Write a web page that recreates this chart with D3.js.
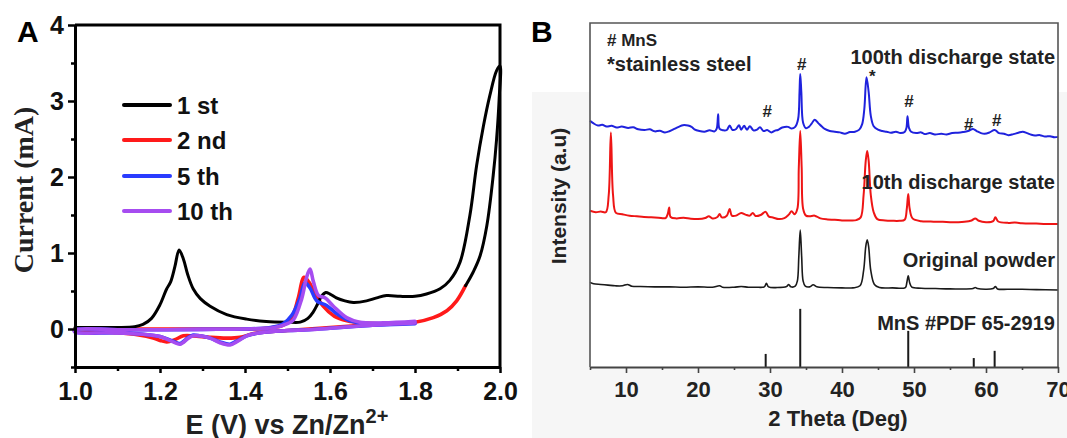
<!DOCTYPE html>
<html><head><meta charset="utf-8">
<script src="https://cdn.jsdelivr.net/npm/d3@7"></script>
<style>body{margin:0;background:#fff}svg{display:block}</style>
</head><body>
<svg id="c" width="1067" height="438"></svg>
<script>
// ---------- Panel A data: cyclic voltammetry [E (V), I (mA)] ----------
const cycleNames = ["1 st", "2 nd", "5 th", "10 th"];
const cycleColors = ["#000000", "#ff1a1a", "#2a3cff", "#a64cf0"];
const cycle1 = [[1.00,0.02],[1.05,0.02],[1.10,0.02],[1.14,0.03],[1.16,0.06],[1.18,0.14],[1.20,0.32],[1.215,0.52],[1.225,0.62],[1.235,0.82],[1.245,1.04],[1.255,0.92],[1.265,0.72],[1.278,0.53],[1.295,0.40],[1.318,0.30],[1.357,0.19],[1.404,0.13],[1.45,0.10],[1.50,0.09],[1.53,0.09],[1.548,0.14],[1.56,0.22],[1.57,0.32],[1.58,0.43],[1.59,0.48],[1.60,0.46],[1.615,0.41],[1.635,0.37],[1.655,0.35],[1.686,0.37],[1.71,0.41],[1.733,0.44],[1.765,0.43],[1.80,0.43],[1.827,0.46],[1.859,0.53],[1.882,0.64],[1.906,0.88],[1.929,1.49],[1.945,2.15],[1.961,2.67],[1.976,3.07],[1.992,3.40],[2.0,3.46],[1.998,3.03],[1.992,2.5],[1.984,2.02],[1.969,1.36],[1.953,0.96],[1.937,0.75],[1.919,0.57]];
const cycle2 = [[1.919,0.57],[1.898,0.37],[1.875,0.24],[1.843,0.15],[1.80,0.09],[1.75,0.07],[1.70,0.06],[1.65,0.04],[1.60,0.02],[1.55,0.0],[1.50,-0.02],[1.45,-0.04],[1.42,-0.06],[1.388,-0.11],[1.357,-0.12],[1.318,-0.11],[1.278,-0.09],[1.255,-0.09],[1.235,-0.14],[1.216,-0.17],[1.20,-0.15],[1.184,-0.12],[1.15,-0.08],[1.10,-0.05],[1.05,-0.04],[1.00,-0.03],[1.00,0.0],[1.10,0.0],[1.20,0.0],[1.30,0.0],[1.40,0.0],[1.45,0.01],[1.49,0.05],[1.51,0.15],[1.525,0.40],[1.539,0.68],[1.55,0.62],[1.562,0.50],[1.584,0.30],[1.61,0.17],[1.64,0.11],[1.68,0.08],[1.74,0.07],[1.80,0.08]];
const cycle5 = [[1.80,0.07],[1.75,0.06],[1.70,0.05],[1.65,0.03],[1.60,0.01],[1.55,-0.01],[1.50,-0.02],[1.45,-0.04],[1.425,-0.06],[1.404,-0.09],[1.38,-0.16],[1.365,-0.20],[1.341,-0.17],[1.318,-0.12],[1.294,-0.09],[1.278,-0.08],[1.267,-0.11],[1.247,-0.19],[1.231,-0.16],[1.20,-0.10],[1.161,-0.07],[1.10,-0.05],[1.00,-0.04],[1.00,-0.01],[1.10,-0.01],[1.20,-0.01],[1.30,-0.005],[1.40,0.0],[1.46,0.02],[1.49,0.07],[1.51,0.18],[1.529,0.40],[1.541,0.61],[1.553,0.54],[1.569,0.37],[1.592,0.31],[1.616,0.20],[1.645,0.11],[1.67,0.08],[1.72,0.07],[1.80,0.08]];
const cycle10 = [[1.80,0.08],[1.75,0.065],[1.70,0.05],[1.67,0.04],[1.60,0.01],[1.55,-0.01],[1.50,-0.02],[1.45,-0.04],[1.425,-0.06],[1.404,-0.09],[1.38,-0.17],[1.365,-0.21],[1.341,-0.18],[1.318,-0.12],[1.294,-0.09],[1.278,-0.09],[1.267,-0.12],[1.247,-0.20],[1.231,-0.17],[1.20,-0.10],[1.161,-0.07],[1.082,-0.05],[1.00,-0.04],[1.00,-0.01],[1.10,-0.01],[1.20,-0.01],[1.30,-0.005],[1.40,0.0],[1.47,0.02],[1.50,0.07],[1.514,0.12],[1.533,0.39],[1.545,0.68],[1.553,0.79],[1.561,0.62],[1.573,0.44],[1.588,0.41],[1.608,0.30],[1.639,0.15],[1.67,0.09],[1.725,0.08],[1.80,0.10]];
const xTicksA = [1.0,1.2,1.4,1.6,1.8,2.0];
const xMinorA = [1.1,1.3,1.5,1.7,1.9];
const yTicksA = [0,1,2,3,4];
const yMinorA = [-0.5,0.5,1.5,2.5,3.5];

// ---------- Panel B data: XRD [2theta (deg), intensity (a.u.)] ----------
const traceNames = ["100th discharge state", "10th discharge state", "Original powder", "MnS #PDF 65-2919"];
const traceColors = ["#1f22dd", "#ee1515", "#1a1a1a", "#1a1a1a"];
const xrd100 = [[5,71.6],[5.5,70.8],[6.1,70.2],[6.7,70.4],[7.3,69.9],[8.0,70.1],[8.7,69.6],[9.4,69.9],[10.3,69.5],[11.0,69.7],[11.7,69.1],[12.6,68.9],[13.3,69.1],[14.0,68.5],[14.7,68.7],[15.4,68.2],[16.1,68.6],[16.8,69.3],[17.4,69.9],[17.9,70.3],[18.6,70.2],[19.1,69.8],[19.5,69.1],[20.2,68.6],[20.9,68.4],[21.6,68.8],[22.3,68.5],[22.6,69.3],[22.8,73.5],[23.0,69.2],[23.5,68.8],[24.0,68.9],[24.4,70.2],[24.8,68.9],[25.3,69.2],[25.7,70.3],[26.0,69.0],[26.4,70.1],[26.8,69.0],[27.2,70.0],[27.7,68.8],[28.2,69.0],[28.6,69.7],[29.1,68.6],[29.6,68.9],[30.2,68.2],[30.7,68.7],[31.1,68.9],[31.7,69.6],[32.5,69.8],[33.0,69.3],[33.5,69.8],[33.9,72],[34.1,80],[34.2,85.2],[34.35,80],[34.6,71],[35.0,69.4],[35.4,69.8],[35.8,70.8],[36.2,71.9],[36.7,70.9],[37.2,69.9],[37.6,69.2],[38.3,68.6],[39.0,68.4],[39.7,68.2],[40.4,67.8],[41.1,68.3],[41.8,68.4],[42.4,69.0],[42.8,70.6],[43.1,75],[43.4,84.2],[43.7,80],[44.0,73],[44.4,70],[45.0,69.0],[45.6,68.6],[46.2,68.4],[46.8,68.1],[47.5,68.4],[48.1,68.0],[48.7,68.3],[48.95,69.5],[49.1,72.9],[49.3,69.5],[49.6,68.4],[50.3,68.0],[51.0,68.2],[51.5,67.7],[52.2,68.0],[52.9,67.6],[53.8,67.8],[54.5,67.6],[55.3,68.0],[56.1,68.1],[56.8,68.3],[57.5,68.6],[58.2,69.2],[58.7,68.6],[59.3,68.0],[59.8,67.8],[60.5,68.2],[61.2,68.9],[61.8,68.0],[62.5,67.8],[63.1,67.4],[63.8,67.7],[64.5,68.1],[65.1,68.4],[65.7,68.0],[66.3,67.5],[66.8,67.3],[67.5,67.4],[68.2,67.0],[68.9,67.1],[69.5,66.8],[70,66.9]];
const xrd10 = [[5,45.4],[5.8,45.0],[6.5,45.2],[7.2,45.0],[7.6,50],[7.9,68.2],[8.2,50],[8.6,44.8],[9.5,44.4],[10.5,44.0],[11.5,43.8],[12.5,43.6],[13.5,43.5],[14.5,43.4],[15.5,43.3],[15.8,44.5],[16.0,46.4],[16.2,43.6],[17,43.2],[18,43.4],[19,43.1],[20,43.0],[21,43.3],[21.5,43.8],[22,43.2],[22.7,43.6],[23.0,44.5],[23.3,43.5],[24.0,44.0],[24.4,45.9],[24.7,44.0],[25.3,44.0],[26.0,44.8],[26.6,44.3],[27.2,44.0],[27.6,44.8],[28.0,43.9],[28.7,44.2],[29.4,45.1],[29.8,43.8],[30.5,43.4],[31.2,43.0],[32,43.3],[32.6,44.3],[33.0,45.3],[33.4,44.4],[33.8,46],[34.0,58],[34.2,68.6],[34.4,58],[34.6,46],[35.0,44.0],[35.5,43.8],[36.2,44.0],[37,43.2],[38,42.9],[39,42.8],[40,42.6],[41,42.6],[42,42.7],[42.6,43.5],[43.0,50],[43.3,60],[43.5,62.8],[43.7,60],[44.0,50],[44.4,45],[44.9,43.0],[46,42.6],[47,42.5],[48,42.5],[48.7,42.8],[49.0,46],[49.2,50.3],[49.4,46],[49.8,43.2],[51,42.4],[52,42.3],[53,42.2],[54,42.2],[55,42.1],[56,42.1],[57,42.2],[58,42.6],[58.5,43.2],[59,42.5],[60,42.1],[61,42.4],[61.3,43.5],[61.7,42.3],[63,41.9],[64,42.0],[65,41.8],[66,41.7],[67,41.7],[68,41.6],[69,41.6],[70,41.6]];
const xrdOrig = [[5,24.6],[5.5,24.2],[6.5,24.0],[7.5,23.8],[8.5,23.6],[9.5,23.6],[10.2,24.0],[10.8,23.5],[12,23.4],[14,23.3],[16,23.3],[18,23.2],[20,23.3],[22,23.2],[23,23.6],[23.4,23.2],[25,23.2],[26,23.4],[27,23.2],[28,23.2],[29.2,23.3],[29.5,24.3],[29.8,23.3],[31,23.1],[32.3,23.4],[32.6,24.0],[32.9,23.3],[33.5,23.5],[33.8,25],[34.0,32],[34.2,39.8],[34.4,32],[34.6,25],[34.9,23.5],[35.5,23.3],[36.0,23.9],[36.5,23.3],[38,23.1],[40,23.0],[41.5,23.0],[42.5,23.6],[43.0,28],[43.3,35],[43.5,37.0],[43.7,35],[44.0,28],[44.5,24],[45.2,23.1],[47,23.0],[48.8,23.1],[49.0,24.5],[49.2,26.5],[49.4,24.5],[49.7,23.2],[51,22.9],[53,22.8],[55,22.7],[58.2,22.8],[58.5,23.1],[58.8,22.8],[61,22.8],[61.3,23.4],[61.6,22.7],[63,22.6],[65,22.6],[67,22.5],[70,22.4]];
const pdfPos = [29.4, 34.2, 49.2, 58.3, 61.2];
const pdfHeight = [3.8, 16.9, 10.5, 2.6, 4.7];
const annText = ["#", "*", "#", "#", "#", "#"];
const annTheta = [34.4, 44.2, 29.6, 49.3, 57.6, 61.5];
const annLevel = [86.3, 82.8, 72.7, 75.6, 68.9, 70.1];
const xTicksB = [10,20,30,40,50,60,70];
const xMinorB = [5,15,25,35,45,55,65];

// ---------- drawing ----------
const svg = d3.select("#c");
const SANS = "'Liberation Sans', Arial, sans-serif";
const SERIF = "'Liberation Serif', 'Times New Roman', serif";

// faint grey background of panel B's screenshot
svg.append("rect").attr("x",532).attr("y",92).attr("width",535).attr("height",346).attr("fill","#f6f6f6");

// ===== Panel A =====
const xA = d3.scaleLinear().domain([1,2]).range([75,500]);
const yA = d3.scaleLinear().domain([-0.5,4]).range([367,25]);
const gA = svg.append("g");

const lineA = d3.line().x(d=>xA(d[0])).y(d=>yA(d[1])).curve(d3.curveCatmullRom.alpha(0.5));
const cycles = [cycle1, cycle2, cycle5, cycle10];
const drawOrder = [1, 0, 2, 3];
drawOrder.forEach(i => {
  gA.append("path").datum(cycles[i]).attr("d", lineA).attr("fill","none")
    .attr("stroke", cycleColors[i]).attr("stroke-width", i===0 ? 3 : 3.6)
    .attr("stroke-linejoin","round").attr("stroke-linecap","round");
});

// frame
gA.append("path").attr("d", `M${xA(1)},${yA(4)}H${xA(2)}V${yA(-0.5)}`).attr("fill","none").attr("stroke","#000").attr("stroke-width",3);

const axAx = gA.append("g").attr("transform",`translate(0,${yA(-0.5)})`)
  .call(d3.axisBottom(xA).tickValues(xTicksA).tickFormat(d3.format(".1f")).tickSize(6).tickSizeOuter(0).tickPadding(9));
gA.append("g").attr("transform",`translate(0,${yA(-0.5)})`)
  .call(d3.axisBottom(xA).tickValues(xMinorA).tickFormat("").tickSize(4).tickSizeOuter(0))
  .select(".domain").remove();
const ayAx = gA.append("g").attr("transform",`translate(${xA(1)},0)`)
  .call(d3.axisLeft(yA).tickValues(yTicksA).tickFormat(d3.format("d")).tickSize(7).tickSizeOuter(0).tickPadding(4));
gA.append("g").attr("transform",`translate(${xA(1)},0)`)
  .call(d3.axisLeft(yA).tickValues(yMinorA).tickFormat("").tickSize(4).tickSizeOuter(0))
  .select(".domain").remove();
gA.selectAll(".domain").attr("stroke","#000").attr("stroke-width",3);
gA.selectAll(".tick line").attr("stroke","#000").attr("stroke-width",2.5);
gA.selectAll(".tick text").attr("font-family",SANS).attr("font-weight","bold").attr("font-size",25).attr("fill","#111");

// axis titles A
gA.append("text").attr("transform","translate(33,190) rotate(-90)").attr("text-anchor","middle")
  .attr("font-family",SERIF).attr("font-weight","bold").attr("font-size",28).attr("fill","#222").text("Current (mA)");
const xt = gA.append("text").attr("x",287).attr("y",434).attr("text-anchor","middle")
  .attr("font-family",SANS).attr("font-weight","bold").attr("font-size",27).attr("fill","#222");
xt.append("tspan").text("E (V) vs Zn/Zn");
xt.append("tspan").attr("dy",-11).attr("font-size",20).text("2+");
gA.append("text").attr("x",17).attr("y",42).attr("font-family",SANS).attr("font-weight","bold").attr("font-size",30).text("A");

// legend A
const legY = [105,140,176,211];
cycleNames.forEach((n,i)=>{
  gA.append("line").attr("x1",124).attr("x2",170).attr("y1",legY[i]).attr("y2",legY[i])
    .attr("stroke",cycleColors[i]).attr("stroke-width",4).attr("stroke-linecap","round");
  gA.append("text").attr("x",177).attr("y",legY[i]+9).attr("font-family",SANS).attr("font-weight","bold")
    .attr("font-size",24).attr("fill","#111").text(n);
});

// ===== Panel B =====
const xB = d3.scaleLinear().domain([5,70]).range([590,1058]);
const yB = d3.scaleLinear().domain([0,100]).range([367,23]);
const gB = svg.append("g");
gB.append("rect").attr("x",xB(5)).attr("y",yB(100)).attr("width",xB(70)-xB(5)).attr("height",yB(0)-yB(100)).attr("fill","#fff");

const lineB = d3.line().x(d=>xB(d[0])).y(d=>yB(d[1])).curve(d3.curveCatmullRom.alpha(0.5));
[xrd100, xrd10, xrdOrig].forEach((tr,i)=>{
  gB.append("path").datum(tr).attr("d",lineB).attr("fill","none").attr("stroke",traceColors[i])
    .attr("stroke-width", i===2 ? 1.6 : 2).attr("stroke-linejoin","round");
});
gB.selectAll(".stick").data(pdfPos.map((p,i)=>[p,pdfHeight[i]])).enter().append("line")
  .attr("x1",d=>xB(d[0])).attr("x2",d=>xB(d[0])).attr("y1",yB(0)).attr("y2",d=>yB(d[1]))
  .attr("stroke",traceColors[3]).attr("stroke-width",2);

// frame B
gB.append("path").attr("d",`M${xB(5)},${yB(0)}V${yB(100)}H${xB(70)}V${yB(0)}`).attr("fill","none").attr("stroke","#555").attr("stroke-width",1.6);
gB.append("g").attr("transform",`translate(0,${yB(0)})`)
  .call(d3.axisBottom(xB).tickValues(xTicksB).tickFormat(d3.format("d")).tickSize(6).tickSizeOuter(0).tickPadding(8));
gB.append("g").attr("transform",`translate(0,${yB(0)})`)
  .call(d3.axisBottom(xB).tickValues(xMinorB).tickFormat("").tickSize(3).tickSizeOuter(0))
  .select(".domain").remove();
gB.selectAll(".domain").attr("stroke","#444").attr("stroke-width",1.8);
gB.selectAll(".tick line").attr("stroke","#444").attr("stroke-width",1.6);
gB.selectAll(".tick text").attr("font-family",SANS).attr("font-weight","bold").attr("font-size",22).attr("fill","#222");

gB.append("text").attr("x",838).attr("y",426).attr("text-anchor","middle").attr("font-family",SANS)
  .attr("font-weight","bold").attr("font-size",22).attr("fill","#222").text("2 Theta (Deg)");
gB.append("text").attr("transform","translate(566,196) rotate(-90)").attr("text-anchor","middle").attr("font-family",SANS)
  .attr("font-weight","bold").attr("font-size",21).attr("fill","#222").text("Intensity (a.u)");
gB.append("text").attr("x",531).attr("y",42).attr("font-family",SANS).attr("font-weight","bold").attr("font-size",30).text("B");

// trace labels
const labelLevel = [88.2, 51.7, 29.1, 10.8];
traceNames.forEach((n,i)=>{
  gB.append("text").attr("x",xB(70)-3).attr("y",yB(labelLevel[i])).attr("text-anchor","end")
    .attr("font-family",SANS).attr("font-weight","bold").attr("font-size",20).attr("fill","#222").text(n);
});
gB.append("text").attr("x",607).attr("y",46).attr("font-family",SANS).attr("font-weight","bold").attr("font-size",17).attr("fill","#222").text("# MnS");
gB.append("text").attr("x",607).attr("y",71).attr("font-family",SANS).attr("font-weight","bold").attr("font-size",20).attr("fill","#222").text("*stainless steel");
annText.forEach((t,i)=>{
  gB.append("text").attr("x",xB(annTheta[i])).attr("y",yB(annLevel[i])).attr("text-anchor","middle")
    .attr("font-family",SANS).attr("font-weight","bold").attr("font-size",17).attr("fill","#222").text(t);
});
</script>
</body></html>
